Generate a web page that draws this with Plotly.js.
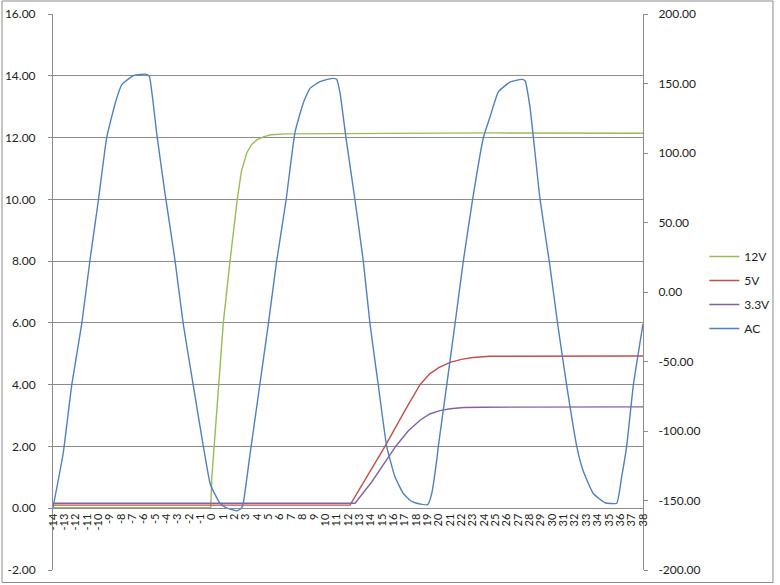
<!DOCTYPE html>
<html>
<head>
<meta charset="utf-8">
<script src="https://cdn.plot.ly/plotly-3.0.1.min.js"></script>
<style>html,body{margin:0;padding:0;background:#fff;}#chart{width:780px;height:585px;}</style>
</head>
<body>
<div id="chart"></div>
<script>
// ---- Data ----
var xTickLabels = ['-14','-13','-12','-11','-10','-9','-8','-7','-6','-5','-4','-3','-2','-1','0','1','2','3','4','5','6','7','8','9','10','11','12','13','14','15','16','17','18','19','20','21','22','23','24','25','26','27','28','29','30','31','32','33','34','35','36','37','38'];
var leftTickLabels = ['-2.00','0.00','2.00','4.00','6.00','8.00','10.00','12.00','14.00','16.00'];
var rightTickLabels = ['-200.00','-150.00','-100.00','-50.00','0.00','50.00','100.00','150.00','200.00'];

var seriesNames = ['12V','5V','3.3V','AC'];

var v12X = [-14, -0.1, 0.0, 0.63, 1.01, 1.6, 2.24, 2.6, 3.07, 3.5, 4.0, 4.6, 5.2, 6.5, 15, 25, 38];
var v12Y = [0.02, 0.02, 1.0, 4.0, 6.0, 8.0, 10.0, 10.9, 11.5, 11.78, 11.93, 12.03, 12.09, 12.12, 12.13, 12.15, 12.14];

var v5X = [-14, 12.18, 13.5, 15.26, 17.0, 18.35, 19.2, 20.0, 21.0, 22.0, 23.0, 24.5, 38];
var v5Y = [0.1, 0.1, 0.92, 2.0, 3.15, 4.0, 4.35, 4.55, 4.72, 4.82, 4.88, 4.92, 4.93];

var v33X = [-14, 12.62, 14.09, 16.2, 17.3, 18.35, 19.2, 20.1, 21.0, 22.2, 24, 38];
var v33Y = [0.16, 0.16, 0.85, 2.0, 2.5, 2.85, 3.05, 3.16, 3.22, 3.26, 3.27, 3.28];

var acX = [-14, -13.1, -12.35, -11.47, -10.74, -10.0, -9.27, -8.83, -8.4, -7.95, -7.4, -6.92, -6.3, -5.74, -5.5, -5.2, -4.86, -4.13, -3.25, -2.52, -1.64, -0.75, -0.16, 0.3, 0.72, 1.2, 1.75, 2.2, 2.6, 2.77, 3.36, 4.24, 4.98, 5.71, 6.54, 7.33, 8.06, 8.65, 9.53, 10.2, 10.7, 11.0, 11.3, 11.82, 12.62, 13.35, 13.94, 14.67, 15.41, 16.14, 16.88, 17.5, 18.05, 19.02, 19.38, 19.82, 19.96, 20.7, 21.43, 22.16, 22.99, 23.93, 24.52, 25.25, 26.28, 27.31, 27.6, 28.04, 28.92, 29.74, 30.48, 31.27, 32.16, 32.74, 33.62, 34.65, 35.68, 36.12, 36.56, 37.15, 38.0];
var acY = [-155, -116, -67, -23, 23, 66, 111, 126, 139, 149, 153, 155.6, 156.5, 156.6, 155, 138, 114, 71, 23, -23, -67, -111, -137.6, -146, -152, -155, -156.5, -157.5, -155.6, -152, -117, -66, -23, 22, 66, 115, 136, 146.5, 151.3, 153, 153.7, 153, 143, 111, 66, 22, -23, -67, -111, -133, -145, -150, -152, -153, -145, -121, -111, -67, -23, 22, 67, 111, 126, 144, 151, 153, 152, 133, 67, 22, -23, -67, -111, -129, -145, -151.6, -152, -133, -111, -67, -23];

var colors = ['#9BBB59', '#C0504D', '#8064A2', '#4F81BD'];

// ---- Traces ----
var traces = [
  {x: v12X, y: v12Y, name: seriesNames[0], type: 'scatter', mode: 'lines', line: {color: colors[0], width: 1.4}, yaxis: 'y', legendgroup: 'a'},
  {x: v5X, y: v5Y, name: seriesNames[1], type: 'scatter', mode: 'lines', line: {color: colors[1], width: 1.4}, yaxis: 'y', legendgroup: 'b'},
  {x: v33X, y: v33Y, name: seriesNames[2], type: 'scatter', mode: 'lines', line: {color: colors[2], width: 1.4}, yaxis: 'y', legendgroup: 'c'},
  {x: acX, y: acY, name: seriesNames[3], type: 'scatter', mode: 'lines', line: {color: colors[3], width: 1.4, shape: 'spline', smoothing: 0.4}, yaxis: 'y2', legendgroup: 'd'}
];

var axisGray = '#8c8c8c';
var fontFam = 'Lato, "Liberation Sans", sans-serif';

var layout = {
  width: 780, height: 585,
  margin: {l: 53, r: 137, t: 14, b: 15, autoexpand: false},
  paper_bgcolor: '#ffffff', plot_bgcolor: '#ffffff',
  font: {family: fontFam, size: 11, color: '#222'},
  showlegend: true,
  xaxis: {
    range: [-14, 38],
    tickmode: 'array',
    tickvals: xTickLabels.map(Number),
    ticktext: xTickLabels,
    tickangle: -90,
    anchor: 'free', position: 2 / 18,
    showline: true, linecolor: axisGray, linewidth: 1,
    showgrid: false, zeroline: false, ticks: '',
    automargin: false,
    tickfont: {family: fontFam, size: 11, color: '#222'}
  },
  yaxis: {
    range: [-2, 16],
    tickmode: 'array',
    tickvals: leftTickLabels.map(Number),
    ticktext: leftTickLabels,
    showline: true, linecolor: axisGray, linewidth: 1,
    showgrid: true, gridcolor: axisGray, gridwidth: 1,
    zeroline: false, automargin: false,
    ticks: 'outside', ticklen: 4, tickcolor: axisGray,
    ticklabelstandoff: 10,
    tickfont: {family: fontFam, size: 12, color: '#222'}
  },
  yaxis2: {
    range: [-200, 200],
    overlaying: 'y', side: 'right',
    tickmode: 'array',
    tickvals: rightTickLabels.map(Number),
    ticktext: rightTickLabels,
    showline: true, linecolor: axisGray, linewidth: 1,
    showgrid: false, zeroline: false, automargin: false,
    ticks: 'outside', ticklen: 4, tickcolor: axisGray,
    ticklabelstandoff: 8,
    tickfont: {family: fontFam, size: 12, color: '#222'}
  },
  legend: {
    x: 1.104, xanchor: 'left', y: 0.59, yanchor: 'top',
    bgcolor: 'rgba(0,0,0,0)', borderwidth: 0,
    tracegroupgap: 5,
    font: {family: fontFam, size: 12, color: '#222'}
  },
  shapes: [
    {type: 'rect', xref: 'paper', yref: 'paper', x0: -0.0864, x1: 1.2203, y0: -0.0225, y1: 1.0234,
     line: {color: '#8c8c8c', width: 1}, fillcolor: 'rgba(0,0,0,0)', layer: 'below'}
  ]
};

Plotly.newPlot('chart', traces, layout, {staticPlot: true, displayModeBar: false});
</script>
</body>
</html>
